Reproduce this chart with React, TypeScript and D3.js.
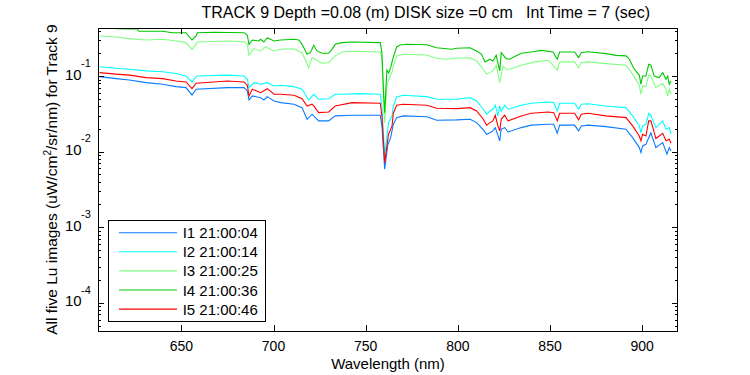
import React from "react";
import * as d3 from "d3";

const W = 750;
const H = 375;
const PLOT = { left: 98, right: 678, top: 28, bottom: 331 };

const xTicks = [650, 700, 750, 800, 850, 900];
const yMajorExponents = [-1, -2, -3, -4];
const xDomain: [number, number] = [604.8, 919.4];
const yDomain: [number, number] = [4.23e-5, 0.4325];

const titleText = "TRACK 9 Depth =0.08 (m) DISK size =0 cm   Int Time = 7 (sec)";
const xLabel = "Wavelength (nm)";

const seriesNames = ["I1 21:00:04", "I2 21:00:14", "I3 21:00:25", "I4 21:00:36", "I5 21:00:46"];
const seriesColors = ["#0a7aff", "#00ffff", "#80ff80", "#00c800", "#ff0000"];

const wavelengthI1 = [605.6,614.6,621.8,630.9,639.9,647.1,652.5,655.8,658,675,684,685.8,686.7,688.5,693,694.8,696.6,700.3,703.9,711.1,715.5,718.2,720.9,724.5,729.9,733.5,742.6,757.9,758.8,760.3,762,763.5,765,766.8,770.4,783.1,788.5,799.4,806.6,810.2,813.8,815.6,817.4,819,820.3,822.7,823.5,825.4,827.2,834.4,839.8,848.9,852,853.9,855.2,863.3,865.5,866.9,870.6,880.3,891.2,894.8,898.4,899.3,900.2,902,904.7,907.4,911.1,913.4,914.7,915.6];
const luI1 = [0.0982,0.0924,0.0888,0.0818,0.0779,0.0724,0.0703,0.0562,0.0669,0.0703,0.0703,0.0635,0.0483,0.0546,0.0518,0.0483,0.0534,0.0469,0.0445,0.0424,0.0382,0.0268,0.0313,0.0255,0.0255,0.0297,0.0303,0.0303,0.0219,0.00585,0.0123,0.0152,0.0230,0.0282,0.0297,0.0290,0.0260,0.0263,0.0268,0.0242,0.0194,0.0170,0.0178,0.0188,0.0208,0.0139,0.0198,0.0208,0.0182,0.0208,0.0224,0.0230,0.0230,0.0175,0.0224,0.0224,0.0188,0.0219,0.0224,0.0214,0.0198,0.0153,0.0113,0.0097,0.0119,0.0125,0.0178,0.0113,0.0132,0.00924,0.0113,0.0102];

const wavelengthI2 = [605.6,614.6,621.8,630.9,639.9,647.1,652.5,655.8,658,658.7,675,684,685.8,686.7,689.4,693,696.6,700.3,703.9,711.1,715.5,719.1,721.8,724.5,729.9,733.5,737.1,746.2,757.9,758.8,760.3,762.4,764.3,765,766.8,770.4,783.1,788.5,799.4,806.6,810.2,813.8,815.6,817.4,819,820.3,821.7,822.7,823.5,825.4,827.2,834.4,839.8,848.9,852,853.9,855.2,863.3,865.5,866.9,870.6,880.3,891.2,894.8,898.4,899.3,900.2,902,903.5,904.7,907.4,911.1,912.9,914.7,915.6];
const luI2 = [0.133,0.127,0.123,0.117,0.114,0.108,0.100,0.0836,0.0982,0.100,0.103,0.100,0.0907,0.0703,0.0818,0.0779,0.0818,0.0740,0.0755,0.0724,0.0669,0.0483,0.0574,0.0493,0.0502,0.0574,0.0574,0.0585,0.0574,0.0402,0.00877,0.0242,0.0297,0.0402,0.0529,0.0557,0.0534,0.0493,0.0493,0.0518,0.0469,0.0364,0.0313,0.0345,0.0364,0.0411,0.0297,0.0402,0.0345,0.0411,0.0364,0.0411,0.0436,0.0454,0.0445,0.0345,0.0436,0.0436,0.0364,0.0424,0.0431,0.0402,0.0382,0.0297,0.0219,0.0178,0.0219,0.0230,0.0322,0.0303,0.0208,0.0255,0.0198,0.0208,0.0170];

const wavelengthI3 = [605.6,614.6,621.8,630.9,639.9,647.1,652.5,655.8,658,658.7,675,684,685.8,686.7,689.4,693,695.7,700.3,703.9,711.1,715.5,719.1,720.9,722.7,726.3,729.9,733.5,737.1,742.6,757.9,758.8,760.3,761.5,762.4,764.3,765,766.8,770.4,783.1,788.5,793.9,799.4,806.6,810.2,813.8,815.6,817.4,819,820.8,822.7,824.5,826.2,828.1,834.4,841.6,848.9,850.5,853.9,855.2,863.3,865.5,866.9,870.6,880.3,891.2,894.8,898.4,899.3,900.2,902,903.5,904.7,907.4,911.1,912.9,913.8,914.7,915.6];
const luI3 = [0.339,0.329,0.313,0.300,0.307,0.291,0.277,0.226,0.263,0.282,0.291,0.285,0.263,0.188,0.230,0.215,0.245,0.215,0.226,0.230,0.204,0.129,0.175,0.167,0.148,0.150,0.185,0.208,0.213,0.208,0.167,0.0242,0.0740,0.0888,0.113,0.136,0.185,0.194,0.190,0.172,0.167,0.172,0.175,0.158,0.123,0.106,0.111,0.117,0.139,0.0818,0.136,0.123,0.123,0.139,0.154,0.162,0.148,0.120,0.154,0.154,0.129,0.150,0.154,0.146,0.139,0.106,0.0755,0.0574,0.0740,0.0724,0.103,0.100,0.0703,0.0803,0.0669,0.0546,0.0669,0.0574];

const wavelengthI4 = [605.6,612,614.6,621.8,626,627,639.9,645,652.5,655.8,658,658.7,667.7,684,685.8,686.7,688.5,692,693,694.8,696.6,700.3,703.9,711.1,713.7,715.5,718.2,720,721.8,723.6,726.3,729.9,731.7,733.5,737.1,742.6,757.9,758.8,759.7,760.3,761.5,762.5,763.5,765,766.8,768.6,772.2,783.1,788.5,796.6,799.4,806.6,810.2,812.9,814.7,817.4,819,820.8,822.7,823.5,826.2,828.1,830.8,834.4,839.8,845.2,851.6,853.9,855.2,863.3,865.5,866.9,870.6,880.3,885.7,891.2,893,895.7,898.4,899.3,900.2,902,903.5,904.7,906.5,909.2,911.1,912.9,913.8,914.7,915.6];
const luI4 = [0.460,0.446,0.424,0.420,0.420,0.391,0.391,0.375,0.375,0.300,0.339,0.375,0.380,0.375,0.347,0.263,0.300,0.291,0.307,0.282,0.322,0.291,0.300,0.307,0.300,0.263,0.194,0.204,0.255,0.215,0.200,0.200,0.226,0.263,0.277,0.282,0.277,0.204,0.0603,0.0328,0.120,0.110,0.128,0.179,0.243,0.258,0.263,0.260,0.237,0.226,0.233,0.237,0.215,0.194,0.154,0.167,0.158,0.188,0.117,0.204,0.170,0.167,0.181,0.200,0.208,0.219,0.208,0.167,0.208,0.208,0.175,0.204,0.210,0.198,0.188,0.185,0.167,0.123,0.103,0.0779,0.100,0.100,0.143,0.139,0.100,0.0953,0.111,0.0907,0.100,0.0779,0.0861];

const wavelengthI5 = [605.6,614.6,621.8,630.9,639.9,647.1,652.5,655.8,658,675,684,685.8,686.7,688.5,693,696.6,700.3,703.9,711.1,715.5,718.2,720.9,721.8,724.5,729.9,733.5,742.6,757.9,758.8,760.3,762.4,764.3,765,766.8,770.4,783.1,788.5,799.4,806.6,810.2,813.8,815.6,817.4,819,820.3,821.7,822.7,823.5,825.4,827.2,834.4,839.8,848.9,852,853.9,855.2,863.3,865.5,866.9,870.6,880.3,891.2,894.8,898.4,899.3,900.2,902,903.5,904.7,905.5,907.4,911.1,912.9,914.7,915.6];
const luI5 = [0.111,0.106,0.103,0.0953,0.0924,0.0861,0.0836,0.0681,0.0803,0.0861,0.0836,0.0755,0.0546,0.0669,0.0603,0.0681,0.0574,0.0574,0.0557,0.0502,0.0402,0.0424,0.0402,0.0328,0.0335,0.0402,0.0445,0.0436,0.0297,0.00715,0.0170,0.0219,0.0322,0.0411,0.0424,0.0411,0.0375,0.0371,0.0382,0.0345,0.0268,0.0224,0.0242,0.0255,0.0303,0.0219,0.0188,0.0268,0.0303,0.0255,0.0297,0.0322,0.0335,0.0328,0.0255,0.0322,0.0322,0.0263,0.0313,0.0322,0.0297,0.0282,0.0219,0.0161,0.0139,0.0170,0.0161,0.0255,0.0255,0.0219,0.0149,0.0175,0.0139,0.0146,0.0129];

const seriesWavelengths = [wavelengthI1, wavelengthI2, wavelengthI3, wavelengthI4, wavelengthI5];
const seriesValues = [luI1, luI2, luI3, luI4, luI5];

const FONT = "'Liberation Sans', Arial, Helvetica, sans-serif";

export default function App() {
  const x = d3.scaleLinear().domain(xDomain).range([PLOT.left, PLOT.right]);
  const y = d3.scaleLog().domain(yDomain).range([PLOT.bottom, PLOT.top]);
  const line = d3
    .line<[number, number]>()
    .x((d) => x(d[0]))
    .y((d) => y(d[1]));

  const minorTicks: number[] = [];
  for (let e = -5; e <= 0; e++) {
    for (let k = 2; k <= 9; k++) {
      const v = k * Math.pow(10, e);
      if (v >= yDomain[0] && v <= yDomain[1]) minorTicks.push(v);
    }
  }

  const legendX = 108.5;
  const legendY = 220.5;
  const legendW = 157;
  const legendH = 101;
  const legendRow = 19.1;

  return (
    <div style={{ position: "absolute", left: 0, top: 0, width: W, height: H, background: "#fff" }}>
      <svg width={W} height={H} style={{ display: "block", fontFamily: FONT }}>
        <rect x={0} y={0} width={W} height={H} fill="#fff" />
        <defs>
          <clipPath id="plotClip">
            <rect x={PLOT.left} y={PLOT.top} width={PLOT.right - PLOT.left} height={PLOT.bottom - PLOT.top} />
          </clipPath>
        </defs>

        {/* data lines */}
        <g clipPath="url(#plotClip)">
          {seriesValues.map((vals, i) => {
            const wl = seriesWavelengths[i];
            const n = Math.min(wl.length, vals.length);
            const pts: [number, number][] = [];
            for (let j = 0; j < n; j++) pts.push([wl[j], vals[j]]);
            return (
              <path key={i} d={line(pts) || ""} fill="none" stroke={seriesColors[i]} strokeWidth={1.1} strokeLinejoin="miter" />
            );
          })}
        </g>

        {/* axes box */}
        <rect x={PLOT.left + 0.5} y={PLOT.top + 0.5} width={PLOT.right - PLOT.left - 1} height={PLOT.bottom - PLOT.top} fill="none" stroke="#000" strokeWidth={1} />

        {/* x ticks */}
        {xTicks.map((t) => {
          const px = Math.round(x(t)) + 0.5;
          return (
            <g key={"xt" + t}>
              <line x1={px} x2={px} y1={PLOT.bottom} y2={PLOT.bottom - 6} stroke="#000" />
              <line x1={px} x2={px} y1={PLOT.top} y2={PLOT.top + 6} stroke="#000" />
              <text x={x(t)} y={351} textAnchor="middle" fontSize={14} fill="#000">
                {t}
              </text>
            </g>
          );
        })}

        {/* y major ticks */}
        {yMajorExponents.map((e) => {
          const v = Math.pow(10, e);
          const py = Math.round(y(v)) + 0.5;
          return (
            <g key={"ym" + e}>
              <line x1={PLOT.left} x2={PLOT.left + 6} y1={py} y2={py} stroke="#000" />
              <line x1={PLOT.right} x2={PLOT.right - 6} y1={py} y2={py} stroke="#000" />
              <text x={81.7} y={y(v) + 3.6} textAnchor="end" fontSize={15} fill="#000">
                10
              </text>
              <text x={81} y={y(v) - 9.2} textAnchor="start" fontSize={11} fill="#000">
                {"-" + Math.abs(e)}
              </text>
            </g>
          );
        })}

        {/* y minor ticks */}
        {minorTicks.map((v, i) => {
          const py = Math.round(y(v)) + 0.5;
          return (
            <g key={"yn" + i}>
              <line x1={PLOT.left} x2={PLOT.left + 3} y1={py} y2={py} stroke="#000" />
              <line x1={PLOT.right} x2={PLOT.right - 3} y1={py} y2={py} stroke="#000" />
            </g>
          );
        })}

        {/* title */}
        <text x={201.5} y={17.5} fontSize={16} fill="#000" style={{ whiteSpace: "pre" }}>
          {titleText}
        </text>

        {/* x label */}
        <text x={(PLOT.left + PLOT.right) / 2} y={369} textAnchor="middle" fontSize={15} fill="#000">
          {xLabel}
        </text>

        {/* y label */}
        <text
          transform={`translate(56.5, ${(PLOT.top + PLOT.bottom) / 2}) rotate(-90)`}
          textAnchor="middle"
          fontSize={15.5}
          fill="#000"
        >
          All five Lu images (uW/cm
          <tspan fontSize={10} dy={-6}>2</tspan>
          <tspan dy={6}>/sr/nm) for Track 9</tspan>
        </text>

        {/* legend */}
        <rect x={legendX} y={legendY} width={legendW} height={legendH} fill="#fff" stroke="#000" strokeWidth={1} />
        {seriesNames.map((name, i) => {
          const ly = 232.7 + i * legendRow;
          return (
            <g key={"lg" + i}>
              <line x1={119} x2={177} y1={ly} y2={ly} stroke={seriesColors[i]} strokeWidth={1.1} />
              <text x={182.7} y={ly + 5.5} fontSize={15} fill="#000">
                {name}
              </text>
            </g>
          );
        })}
      </svg>
    </div>
  );
}
